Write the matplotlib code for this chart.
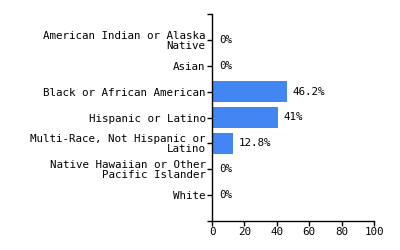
import matplotlib
matplotlib.use("Agg")
import matplotlib.pyplot as plt

# data
categories = [
    "American Indian or Alaska\nNative",
    "Asian",
    "Black or African American",
    "Hispanic or Latino",
    "Multi-Race, Not Hispanic or\nLatino",
    "Native Hawaiian or Other\nPacific Islander",
    "White",
]
values = [0, 0, 46.2, 41, 12.8, 0, 0]
value_labels = ["0%", "0%", "46.2%", "41%", "12.8%", "0%", "0%"]
x_ticks = [0, 20, 40, 60, 80, 100]

plt.rcParams["font.family"] = ["DejaVu Sans Mono"]
plt.rcParams["font.size"] = 7.8

fig = plt.figure(figsize=(4, 2.5), dpi=100)
ax = fig.add_axes([0.53, 0.116, 0.405, 0.828])

y = list(range(len(categories)))
ax.barh(y, values, height=0.8, color="#4286f4")

for yi, v, lab in zip(y, values, value_labels):
    ax.annotate(lab, (v, yi), xytext=(4 if v > 0 else 5, 0),
                textcoords="offset points", va="center", ha="left",
                fontsize=7.8, color="black")

ax.set_xlim(0, 100)
ax.set_ylim(7, -1)
ax.set_xticks(x_ticks)
ax.set_xticklabels([str(t) for t in x_ticks])
ax.set_yticks(y)
ax.set_yticklabels(categories, linespacing=1.0)
ax.set_yticks([-1, 7], minor=True)

for s in ["top", "right"]:
    ax.spines[s].set_visible(False)
for s in ["left", "bottom"]:
    ax.spines[s].set_color("black")
    ax.spines[s].set_linewidth(1)

ax.tick_params(axis="both", which="both", length=3.6, width=1, color="black",
               labelsize=7.8, pad=1)

fig.savefig("out.png", dpi=100)
